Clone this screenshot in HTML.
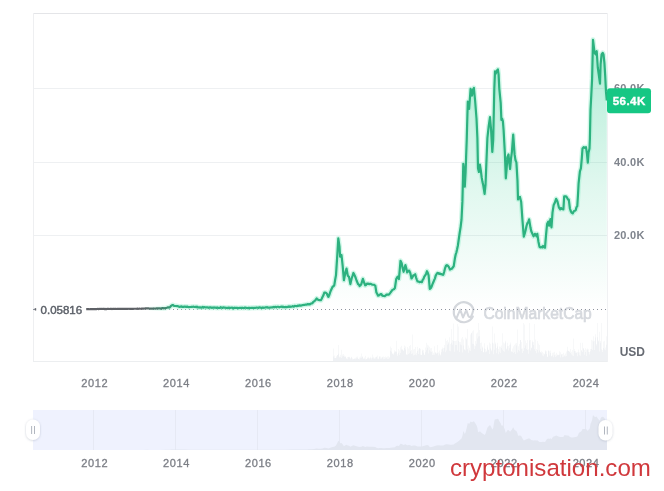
<!DOCTYPE html>
<html><head><meta charset="utf-8"><title>BTC chart</title>
<style>
html,body{margin:0;padding:0;background:#fff;width:664px;height:491px;overflow:hidden}
svg{display:block}
text{font-family:"Liberation Sans",Arial,sans-serif}
</style></head><body>
<svg width="664" height="491" viewBox="0 0 664 491">
<defs>
<linearGradient id="fillg" x1="0" y1="0" x2="0" y2="1" gradientUnits="objectBoundingBox">
<stop offset="0" stop-color="#16c784" stop-opacity="0.34"/>
<stop offset="0.55" stop-color="#16c784" stop-opacity="0.13"/>
<stop offset="1" stop-color="#16c784" stop-opacity="0.0"/>
</linearGradient>
<linearGradient id="lineg" x1="33" y1="0" x2="607" y2="0" gradientUnits="userSpaceOnUse">
<stop offset="0" stop-color="#5e6166"/>
<stop offset="0.19" stop-color="#5e6166"/>
<stop offset="0.232" stop-color="#3d8a6f"/>
<stop offset="0.245" stop-color="#2db07f"/>
<stop offset="1" stop-color="#2cb27f"/>
</linearGradient>
<linearGradient id="halog" x1="33" y1="0" x2="607" y2="0" gradientUnits="userSpaceOnUse">
<stop offset="0" stop-color="#a8f0d4" stop-opacity="0"/>
<stop offset="0.2" stop-color="#a8f0d4" stop-opacity="0"/>
<stop offset="0.245" stop-color="#a8f0d4" stop-opacity="0.55"/>
<stop offset="1" stop-color="#a8f0d4" stop-opacity="0.55"/>
</linearGradient>
<filter id="sh" x="-50%" y="-50%" width="200%" height="200%"><feDropShadow dx="0" dy="0.5" stdDeviation="1.2" flood-color="#8a94a8" flood-opacity="0.45"/></filter>
</defs>
<!-- grid -->
<g stroke="#eef0f2" stroke-width="1">
<line x1="33" y1="88.5" x2="607" y2="88.5"/>
<line x1="33" y1="162.5" x2="607" y2="162.5"/>
<line x1="33" y1="235.5" x2="607" y2="235.5"/>
</g>
<line x1="33" y1="13.5" x2="607" y2="13.5" stroke="#e4e5e8"/>
<line x1="33.5" y1="13" x2="33.5" y2="362" stroke="#eeeff1"/>
<line x1="33" y1="361.5" x2="607" y2="361.5" stroke="#eceef0"/>
<line x1="607.5" y1="13" x2="607.5" y2="362" stroke="#f0f1f3"/>
<!-- volume -->
<g fill="#eff1f4">
<path d="M333,361 L333.0,356.6 L333.5,356.6 L333.5,348.6 L334.0,348.6 L334.0,355.4 L334.5,355.4 L334.5,358.0 L335.0,358.0 L335.0,358.1 L335.5,358.1 L335.5,357.9 L336.0,357.9 L336.0,356.0 L336.5,356.0 L336.5,357.6 L337.0,357.6 L337.0,354.9 L337.5,354.9 L337.5,355.2 L338.0,355.2 L338.0,345.1 L338.5,345.1 L338.5,353.7 L339.0,353.7 L339.0,357.5 L339.5,357.5 L339.5,356.6 L340.0,356.6 L340.0,357.3 L340.5,357.3 L340.5,354.8 L341.0,354.8 L341.0,349.7 L341.5,349.7 L341.5,358.0 L342.0,358.0 L342.0,354.6 L342.5,354.6 L342.5,356.6 L343.0,356.6 L343.0,355.9 L343.5,355.9 L343.5,354.0 L344.0,354.0 L344.0,357.0 L344.5,357.0 L344.5,355.5 L345.0,355.5 L345.0,357.1 L345.5,357.1 L345.5,356.3 L346.0,356.3 L346.0,358.1 L346.5,358.1 L346.5,358.9 L347.0,358.9 L347.0,359.3 L347.5,359.3 L347.5,357.0 L348.0,357.0 L348.0,356.7 L348.5,356.7 L348.5,357.2 L349.0,357.2 L349.0,357.6 L349.5,357.6 L349.5,356.8 L350.0,356.8 L350.0,357.9 L350.5,357.9 L350.5,359.2 L351.0,359.2 L351.0,357.4 L351.5,357.4 L351.5,356.8 L352.0,356.8 L352.0,358.2 L352.5,358.2 L352.5,359.4 L353.0,359.4 L353.0,358.9 L353.5,358.9 L353.5,359.2 L354.0,359.2 L354.0,359.0 L354.5,359.0 L354.5,358.2 L355.0,358.2 L355.0,359.2 L355.5,359.2 L355.5,357.7 L356.0,357.7 L356.0,356.8 L356.5,356.8 L356.5,358.5 L357.0,358.5 L357.0,358.3 L357.5,358.3 L357.5,356.4 L358.0,356.4 L358.0,358.9 L358.5,358.9 L358.5,358.7 L359.0,358.7 L359.0,357.6 L359.5,357.6 L359.5,359.4 L360.0,359.4 L360.0,358.3 L360.5,358.3 L360.5,356.4 L361.0,356.4 L361.0,357.8 L361.5,357.8 L361.5,353.6 L362.0,353.6 L362.0,356.6 L362.5,356.6 L362.5,356.7 L363.0,356.7 L363.0,358.2 L363.5,358.2 L363.5,359.1 L364.0,359.1 L364.0,357.5 L364.5,357.5 L364.5,358.8 L365.0,358.8 L365.0,355.7 L365.5,355.7 L365.5,359.4 L366.0,359.4 L366.0,359.1 L366.5,359.1 L366.5,359.3 L367.0,359.3 L367.0,357.5 L367.5,357.5 L367.5,358.6 L368.0,358.6 L368.0,358.3 L368.5,358.3 L368.5,356.8 L369.0,356.8 L369.0,358.0 L369.5,358.0 L369.5,359.2 L370.0,359.2 L370.0,358.3 L370.5,358.3 L370.5,356.8 L371.0,356.8 L371.0,359.4 L371.5,359.4 L371.5,357.8 L372.0,357.8 L372.0,354.4 L372.5,354.4 L372.5,357.8 L373.0,357.8 L373.0,356.7 L373.5,356.7 L373.5,358.6 L374.0,358.6 L374.0,358.9 L374.5,358.9 L374.5,357.7 L375.0,357.7 L375.0,358.4 L375.5,358.4 L375.5,356.9 L376.0,356.9 L376.0,356.7 L376.5,356.7 L376.5,356.8 L377.0,356.8 L377.0,358.7 L377.5,358.7 L377.5,355.6 L378.0,355.6 L378.0,359.3 L378.5,359.3 L378.5,358.6 L379.0,358.6 L379.0,356.4 L379.5,356.4 L379.5,356.5 L380.0,356.5 L380.0,356.4 L380.5,356.4 L380.5,358.7 L381.0,358.7 L381.0,358.8 L381.5,358.8 L381.5,357.5 L382.0,357.5 L382.0,356.8 L382.5,356.8 L382.5,357.4 L383.0,357.4 L383.0,359.2 L383.5,359.2 L383.5,356.6 L384.0,356.6 L384.0,357.1 L384.5,357.1 L384.5,358.9 L385.0,358.9 L385.0,358.4 L385.5,358.4 L385.5,356.4 L386.0,356.4 L386.0,358.2 L386.5,358.2 L386.5,357.1 L387.0,357.1 L387.0,359.0 L387.5,359.0 L387.5,356.6 L388.0,356.6 L388.0,359.0 L388.5,359.0 L388.5,356.3 L389.0,356.3 L389.0,358.3 L389.5,358.3 L389.5,357.0 L390.0,357.0 L390.0,346.4 L390.5,346.4 L390.5,350.8 L391.0,350.8 L391.0,351.8 L391.5,351.8 L391.5,347.9 L392.0,347.9 L392.0,353.6 L392.5,353.6 L392.5,353.7 L393.0,353.7 L393.0,353.5 L393.5,353.5 L393.5,354.8 L394.0,354.8 L394.0,352.5 L394.5,352.5 L394.5,350.3 L395.0,350.3 L395.0,351.9 L395.5,351.9 L395.5,351.1 L396.0,351.1 L396.0,340.7 L396.5,340.7 L396.5,351.7 L397.0,351.7 L397.0,356.0 L397.5,356.0 L397.5,354.3 L398.0,354.3 L398.0,348.9 L398.5,348.9 L398.5,352.8 L399.0,352.8 L399.0,350.6 L399.5,350.6 L399.5,355.0 L400.0,355.0 L400.0,352.9 L400.5,352.9 L400.5,347.3 L401.0,347.3 L401.0,349.5 L401.5,349.5 L401.5,345.7 L402.0,345.7 L402.0,349.0 L402.5,349.0 L402.5,350.1 L403.0,350.1 L403.0,350.7 L403.5,350.7 L403.5,350.4 L404.0,350.4 L404.0,348.0 L404.5,348.0 L404.5,345.4 L405.0,345.4 L405.0,349.6 L405.5,349.6 L405.5,346.5 L406.0,346.5 L406.0,354.3 L406.5,354.3 L406.5,354.8 L407.0,354.8 L407.0,354.8 L407.5,354.8 L407.5,347.1 L408.0,347.1 L408.0,353.9 L408.5,353.9 L408.5,348.5 L409.0,348.5 L409.0,346.1 L409.5,346.1 L409.5,353.2 L410.0,353.2 L410.0,351.3 L410.5,351.3 L410.5,344.9 L411.0,344.9 L411.0,353.9 L411.5,353.9 L411.5,350.0 L412.0,350.0 L412.0,353.5 L412.5,353.5 L412.5,334.6 L413.0,334.6 L413.0,349.6 L413.5,349.6 L413.5,355.4 L414.0,355.4 L414.0,348.9 L414.5,348.9 L414.5,354.9 L415.0,354.9 L415.0,347.1 L415.5,347.1 L415.5,354.5 L416.0,354.5 L416.0,355.2 L416.5,355.2 L416.5,352.7 L417.0,352.7 L417.0,351.0 L417.5,351.0 L417.5,346.8 L418.0,346.8 L418.0,354.0 L418.5,354.0 L418.5,349.4 L419.0,349.4 L419.0,348.3 L419.5,348.3 L419.5,348.2 L420.0,348.2 L420.0,354.8 L420.5,354.8 L420.5,348.7 L421.0,348.7 L421.0,354.7 L421.5,354.7 L421.5,354.9 L422.0,354.9 L422.0,350.7 L422.5,350.7 L422.5,349.6 L423.0,349.6 L423.0,352.7 L423.5,352.7 L423.5,349.9 L424.0,349.9 L424.0,354.4 L424.5,354.4 L424.5,355.1 L425.0,355.1 L425.0,352.2 L425.5,352.2 L425.5,347.4 L426.0,347.4 L426.0,350.2 L426.5,350.2 L426.5,342.7 L427.0,342.7 L427.0,344.8 L427.5,344.8 L427.5,347.7 L428.0,347.7 L428.0,353.6 L428.5,353.6 L428.5,345.5 L429.0,345.5 L429.0,346.8 L429.5,346.8 L429.5,350.3 L430.0,350.3 L430.0,351.4 L430.5,351.4 L430.5,348.2 L431.0,348.2 L431.0,351.9 L431.5,351.9 L431.5,348.0 L432.0,348.0 L432.0,351.2 L432.5,351.2 L432.5,355.0 L433.0,355.0 L433.0,354.8 L433.5,354.8 L433.5,352.8 L434.0,352.8 L434.0,354.7 L434.5,354.7 L434.5,346.2 L435.0,346.2 L435.0,352.6 L435.5,352.6 L435.5,352.4 L436.0,352.4 L436.0,353.9 L436.5,353.9 L436.5,352.8 L437.0,352.8 L437.0,345.1 L437.5,345.1 L437.5,353.0 L438.0,353.0 L438.0,352.3 L438.5,352.3 L438.5,355.6 L439.0,355.6 L439.0,350.5 L439.5,350.5 L439.5,353.4 L440.0,353.4 L440.0,355.5 L440.5,355.5 L440.5,354.6 L441.0,354.6 L441.0,349.3 L441.5,349.3 L441.5,352.3 L442.0,352.3 L442.0,349.3 L442.5,349.3 L442.5,347.5 L443.0,347.5 L443.0,347.9 L443.5,347.9 L443.5,351.4 L444.0,351.4 L444.0,345.0 L444.5,345.0 L444.5,347.8 L445.0,347.8 L445.0,352.2 L445.5,352.2 L445.5,338.5 L446.0,338.5 L446.0,341.0 L446.5,341.0 L446.5,350.6 L447.0,350.6 L447.0,344.7 L447.5,344.7 L447.5,339.9 L448.0,339.9 L448.0,343.4 L448.5,343.4 L448.5,341.8 L449.0,341.8 L449.0,337.3 L449.5,337.3 L449.5,350.7 L450.0,350.7 L450.0,351.2 L450.5,351.2 L450.5,343.9 L451.0,343.9 L451.0,342.8 L451.5,342.8 L451.5,328.9 L452.0,328.9 L452.0,340.0 L452.5,340.0 L452.5,344.8 L453.0,344.8 L453.0,323.4 L453.5,323.4 L453.5,341.0 L454.0,341.0 L454.0,351.7 L454.5,351.7 L454.5,341.1 L455.0,341.1 L455.0,340.9 L455.5,340.9 L455.5,344.9 L456.0,344.9 L456.0,345.1 L456.5,345.1 L456.5,340.5 L457.0,340.5 L457.0,324.0 L457.5,324.0 L457.5,350.5 L458.0,350.5 L458.0,340.9 L458.5,340.9 L458.5,326.4 L459.0,326.4 L459.0,351.9 L459.5,351.9 L459.5,342.0 L460.0,342.0 L460.0,342.0 L460.5,342.0 L460.5,344.5 L461.0,344.5 L461.0,345.3 L461.5,345.3 L461.5,338.4 L462.0,338.4 L462.0,337.1 L462.5,337.1 L462.5,352.6 L463.0,352.6 L463.0,339.6 L463.5,339.6 L463.5,345.6 L464.0,345.6 L464.0,349.5 L464.5,349.5 L464.5,349.5 L465.0,349.5 L465.0,350.6 L465.5,350.6 L465.5,337.5 L466.0,337.5 L466.0,339.6 L466.5,339.6 L466.5,338.5 L467.0,338.5 L467.0,349.2 L467.5,349.2 L467.5,329.0 L468.0,329.0 L468.0,352.8 L468.5,352.8 L468.5,345.6 L469.0,345.6 L469.0,350.6 L469.5,350.6 L469.5,347.8 L470.0,347.8 L470.0,351.1 L470.5,351.1 L470.5,334.5 L471.0,334.5 L471.0,332.8 L471.5,332.8 L471.5,333.2 L472.0,333.2 L472.0,343.7 L472.5,343.7 L472.5,331.3 L473.0,331.3 L473.0,344.0 L473.5,344.0 L473.5,330.3 L474.0,330.3 L474.0,349.1 L474.5,349.1 L474.5,345.4 L475.0,345.4 L475.0,346.2 L475.5,346.2 L475.5,341.0 L476.0,341.0 L476.0,343.7 L476.5,343.7 L476.5,333.6 L477.0,333.6 L477.0,338.6 L477.5,338.6 L477.5,332.5 L478.0,332.5 L478.0,323.0 L478.5,323.0 L478.5,336.6 L479.0,336.6 L479.0,336.2 L479.5,336.2 L479.5,329.9 L480.0,329.9 L480.0,343.0 L480.5,343.0 L480.5,348.8 L481.0,348.8 L481.0,350.9 L481.5,350.9 L481.5,342.4 L482.0,342.4 L482.0,346.4 L482.5,346.4 L482.5,347.7 L483.0,347.7 L483.0,352.6 L483.5,352.6 L483.5,352.1 L484.0,352.1 L484.0,348.4 L484.5,348.4 L484.5,343.3 L485.0,343.3 L485.0,349.0 L485.5,349.0 L485.5,352.3 L486.0,352.3 L486.0,350.4 L486.5,350.4 L486.5,351.7 L487.0,351.7 L487.0,347.5 L487.5,347.5 L487.5,345.3 L488.0,345.3 L488.0,349.5 L488.5,349.5 L488.5,350.0 L489.0,350.0 L489.0,353.9 L489.5,353.9 L489.5,342.5 L490.0,342.5 L490.0,348.4 L490.5,348.4 L490.5,343.8 L491.0,343.8 L491.0,351.3 L491.5,351.3 L491.5,349.7 L492.0,349.7 L492.0,342.7 L492.5,342.7 L492.5,326.4 L493.0,326.4 L493.0,354.3 L493.5,354.3 L493.5,343.4 L494.0,343.4 L494.0,333.6 L494.5,333.6 L494.5,349.8 L495.0,349.8 L495.0,344.3 L495.5,344.3 L495.5,342.4 L496.0,342.4 L496.0,353.3 L496.5,353.3 L496.5,348.1 L497.0,348.1 L497.0,342.8 L497.5,342.8 L497.5,346.5 L498.0,346.5 L498.0,348.9 L498.5,348.9 L498.5,354.2 L499.0,354.2 L499.0,351.8 L499.5,351.8 L499.5,346.6 L500.0,346.6 L500.0,353.1 L500.5,353.1 L500.5,346.7 L501.0,346.7 L501.0,345.6 L501.5,345.6 L501.5,348.1 L502.0,348.1 L502.0,349.8 L502.5,349.8 L502.5,333.3 L503.0,333.3 L503.0,350.9 L503.5,350.9 L503.5,342.6 L504.0,342.6 L504.0,343.6 L504.5,343.6 L504.5,351.7 L505.0,351.7 L505.0,342.6 L505.5,342.6 L505.5,340.7 L506.0,340.7 L506.0,348.4 L506.5,348.4 L506.5,349.4 L507.0,349.4 L507.0,346.3 L507.5,346.3 L507.5,342.7 L508.0,342.7 L508.0,350.4 L508.5,350.4 L508.5,346.1 L509.0,346.1 L509.0,344.7 L509.5,344.7 L509.5,348.3 L510.0,348.3 L510.0,342.5 L510.5,342.5 L510.5,344.4 L511.0,344.4 L511.0,351.9 L511.5,351.9 L511.5,351.0 L512.0,351.0 L512.0,348.5 L512.5,348.5 L512.5,351.9 L513.0,351.9 L513.0,346.3 L513.5,346.3 L513.5,352.9 L514.0,352.9 L514.0,352.0 L514.5,352.0 L514.5,344.8 L515.0,344.8 L515.0,353.9 L515.5,353.9 L515.5,343.4 L516.0,343.4 L516.0,345.5 L516.5,345.5 L516.5,343.0 L517.0,343.0 L517.0,352.4 L517.5,352.4 L517.5,329.6 L518.0,329.6 L518.0,346.3 L518.5,346.3 L518.5,350.0 L519.0,350.0 L519.0,344.1 L519.5,344.1 L519.5,351.2 L520.0,351.2 L520.0,340.0 L520.5,340.0 L520.5,339.9 L521.0,339.9 L521.0,348.7 L521.5,348.7 L521.5,342.0 L522.0,342.0 L522.0,353.1 L522.5,353.1 L522.5,348.4 L523.0,348.4 L523.0,351.0 L523.5,351.0 L523.5,323.0 L524.0,323.0 L524.0,347.9 L524.5,347.9 L524.5,324.5 L525.0,324.5 L525.0,345.6 L525.5,345.6 L525.5,340.6 L526.0,340.6 L526.0,343.0 L526.5,343.0 L526.5,348.9 L527.0,348.9 L527.0,340.0 L527.5,340.0 L527.5,350.0 L528.0,350.0 L528.0,349.2 L528.5,349.2 L528.5,353.7 L529.0,353.7 L529.0,340.6 L529.5,340.6 L529.5,323.0 L530.0,323.0 L530.0,350.4 L530.5,350.4 L530.5,340.0 L531.0,340.0 L531.0,348.2 L531.5,348.2 L531.5,347.6 L532.0,347.6 L532.0,340.4 L532.5,340.4 L532.5,342.2 L533.0,342.2 L533.0,342.0 L533.5,342.0 L533.5,345.1 L534.0,345.1 L534.0,349.2 L534.5,349.2 L534.5,324.1 L535.0,324.1 L535.0,351.0 L535.5,351.0 L535.5,339.5 L536.0,339.5 L536.0,353.3 L536.5,353.3 L536.5,349.1 L537.0,349.1 L537.0,341.1 L537.5,341.1 L537.5,350.0 L538.0,350.0 L538.0,352.4 L538.5,352.4 L538.5,343.6 L539.0,343.6 L539.0,350.4 L539.5,350.4 L539.5,344.9 L540.0,344.9 L540.0,352.0 L540.5,352.0 L540.5,352.6 L541.0,352.6 L541.0,351.3 L541.5,351.3 L541.5,353.3 L542.0,353.3 L542.0,352.1 L542.5,352.1 L542.5,355.6 L543.0,355.6 L543.0,356.3 L543.5,356.3 L543.5,353.2 L544.0,353.2 L544.0,354.5 L544.5,354.5 L544.5,353.7 L545.0,353.7 L545.0,351.6 L545.5,351.6 L545.5,350.3 L546.0,350.3 L546.0,354.0 L546.5,354.0 L546.5,351.3 L547.0,351.3 L547.0,357.1 L547.5,357.1 L547.5,356.5 L548.0,356.5 L548.0,350.4 L548.5,350.4 L548.5,350.7 L549.0,350.7 L549.0,351.2 L549.5,351.2 L549.5,355.5 L550.0,355.5 L550.0,350.6 L550.5,350.6 L550.5,353.1 L551.0,353.1 L551.0,355.8 L551.5,355.8 L551.5,356.4 L552.0,356.4 L552.0,355.6 L552.5,355.6 L552.5,352.7 L553.0,352.7 L553.0,357.3 L553.5,357.3 L553.5,352.5 L554.0,352.5 L554.0,355.2 L554.5,355.2 L554.5,351.7 L555.0,351.7 L555.0,356.9 L555.5,356.9 L555.5,354.6 L556.0,354.6 L556.0,352.8 L556.5,352.8 L556.5,356.2 L557.0,356.2 L557.0,354.4 L557.5,354.4 L557.5,355.2 L558.0,355.2 L558.0,355.2 L558.5,355.2 L558.5,354.8 L559.0,354.8 L559.0,351.2 L559.5,351.2 L559.5,354.8 L560.0,354.8 L560.0,352.2 L560.5,352.2 L560.5,357.4 L561.0,357.4 L561.0,354.3 L561.5,354.3 L561.5,354.5 L562.0,354.5 L562.0,354.1 L562.5,354.1 L562.5,357.3 L563.0,357.3 L563.0,352.8 L563.5,352.8 L563.5,356.8 L564.0,356.8 L564.0,354.7 L564.5,354.7 L564.5,356.3 L565.0,356.3 L565.0,353.6 L565.5,353.6 L565.5,356.6 L566.0,356.6 L566.0,351.6 L566.5,351.6 L566.5,356.0 L567.0,356.0 L567.0,350.6 L567.5,350.6 L567.5,346.8 L568.0,346.8 L568.0,350.7 L568.5,350.7 L568.5,350.9 L569.0,350.9 L569.0,351.5 L569.5,351.5 L569.5,351.7 L570.0,351.7 L570.0,352.9 L570.5,352.9 L570.5,349.0 L571.0,349.0 L571.0,354.5 L571.5,354.5 L571.5,351.8 L572.0,351.8 L572.0,355.4 L572.5,355.4 L572.5,350.0 L573.0,350.0 L573.0,356.1 L573.5,356.1 L573.5,338.4 L574.0,338.4 L574.0,349.0 L574.5,349.0 L574.5,351.1 L575.0,351.1 L575.0,350.9 L575.5,350.9 L575.5,352.7 L576.0,352.7 L576.0,352.7 L576.5,352.7 L576.5,352.5 L577.0,352.5 L577.0,356.3 L577.5,356.3 L577.5,352.1 L578.0,352.1 L578.0,349.6 L578.5,349.6 L578.5,352.4 L579.0,352.4 L579.0,352.2 L579.5,352.2 L579.5,355.3 L580.0,355.3 L580.0,355.7 L580.5,355.7 L580.5,342.8 L581.0,342.8 L581.0,350.8 L581.5,350.8 L581.5,349.9 L582.0,349.9 L582.0,342.8 L582.5,342.8 L582.5,352.0 L583.0,352.0 L583.0,347.9 L583.5,347.9 L583.5,348.8 L584.0,348.8 L584.0,349.9 L584.5,349.9 L584.5,354.8 L585.0,354.8 L585.0,352.1 L585.5,352.1 L585.5,348.3 L586.0,348.3 L586.0,349.4 L586.5,349.4 L586.5,355.9 L587.0,355.9 L587.0,349.7 L587.5,349.7 L587.5,348.4 L588.0,348.4 L588.0,349.2 L588.5,349.2 L588.5,352.0 L589.0,352.0 L589.0,354.6 L589.5,354.6 L589.5,351.9 L590.0,351.9 L590.0,351.3 L590.5,351.3 L590.5,349.1 L591.0,349.1 L591.0,339.8 L591.5,339.8 L591.5,349.0 L592.0,349.0 L592.0,349.9 L592.5,349.9 L592.5,340.5 L593.0,340.5 L593.0,336.3 L593.5,336.3 L593.5,341.6 L594.0,341.6 L594.0,350.1 L594.5,350.1 L594.5,340.7 L595.0,340.7 L595.0,337.6 L595.5,337.6 L595.5,334.2 L596.0,334.2 L596.0,345.5 L596.5,345.5 L596.5,344.0 L597.0,344.0 L597.0,323.0 L597.5,323.0 L597.5,337.2 L598.0,337.2 L598.0,340.5 L598.5,340.5 L598.5,341.5 L599.0,341.5 L599.0,331.7 L599.5,331.7 L599.5,351.4 L600.0,351.4 L600.0,340.9 L600.5,340.9 L600.5,342.8 L601.0,342.8 L601.0,349.6 L601.5,349.6 L601.5,323.0 L602.0,323.0 L602.0,352.0 L602.5,352.0 L602.5,350.1 L603.0,350.1 L603.0,348.0 L603.5,348.0 L603.5,341.4 L604.0,341.4 L604.0,340.8 L604.5,340.8 L604.5,349.6 L605.0,349.6 L605.0,347.6 L605.5,347.6 L605.5,350.3 L606.0,350.3 L606.0,336.3 L606.5,336.3 L606.5,344.8 L607.0,344.8 L607,361 Z"/>
</g>
<!-- cmc watermark -->
<g>
<path d="M472.8,316.5 A10,10 0 1 1 473.4,309.5" fill="none" stroke="#d4d7dc" stroke-width="2.2" stroke-linecap="round"/>
<path d="M456.5,318.2 L460.2,309.6 L463,317.5 L466.3,310.2 L468.2,315.7 Q469.5,318 471,316.5 Q472.4,314.5 473.4,309.5" fill="none" stroke="#d4d7dc" stroke-width="2" stroke-linejoin="round" stroke-linecap="round"/>
<text x="483.4" y="319.4" font-size="16.2" fill="#d6d9de" stroke="#d6d9de" stroke-width="0.7" textLength="108.4" lengthAdjust="spacingAndGlyphs">CoinMarketCap</text>
</g>
<!-- baseline -->
<line x1="33" y1="309.5" x2="607" y2="309.5" stroke="#8e949e" stroke-width="1" stroke-dasharray="1 3"/>
<!-- area + line -->
<path d="M35.00,309.30 L35.71,309.25 L36.43,309.31 L37.14,309.27 L37.86,309.32 L38.57,309.33 L39.29,309.21 L40.00,309.20 L40.71,309.37 L41.43,309.25 L42.14,309.25 L42.86,309.40 L43.57,309.29 L44.29,309.37 L45.00,309.30 L45.71,309.33 L46.43,309.23 L47.14,309.33 L47.86,309.37 L48.57,309.30 L49.29,309.35 L50.00,309.33 L50.71,309.21 L51.43,309.35 L52.14,309.32 L52.86,309.26 L53.57,309.21 L54.29,309.37 L55.00,309.29 L55.71,309.34 L56.43,309.38 L57.14,309.34 L57.86,309.38 L58.57,309.28 L59.29,309.36 L60.00,309.30 L60.71,309.29 L61.42,309.38 L62.13,309.37 L62.84,309.21 L63.55,309.21 L64.26,309.23 L64.97,309.37 L65.68,309.27 L66.39,309.30 L67.11,309.23 L67.82,309.27 L68.53,309.25 L69.24,309.24 L69.95,309.28 L70.66,309.28 L71.37,309.34 L72.08,309.29 L72.79,309.34 L73.50,309.32 L74.21,309.35 L74.92,309.28 L75.63,309.17 L76.34,309.31 L77.05,309.33 L77.76,309.32 L78.47,309.25 L79.18,309.27 L79.89,309.17 L80.61,309.29 L81.32,309.24 L82.03,309.18 L82.74,309.13 L83.45,309.28 L84.16,309.31 L84.87,309.13 L85.58,309.27 L86.29,309.18 L87.00,309.20 L87.72,309.12 L88.44,309.14 L89.17,309.22 L89.89,309.23 L90.61,309.05 L91.33,309.16 L92.06,309.03 L92.78,309.15 L93.50,309.07 L94.22,309.17 L94.94,309.17 L95.67,309.07 L96.39,309.16 L97.11,309.01 L97.83,308.95 L98.56,309.04 L99.28,308.92 L100.00,309.00 L100.71,308.94 L101.43,308.97 L102.14,309.01 L102.86,308.92 L103.57,308.89 L104.29,309.05 L105.00,308.94 L105.71,309.06 L106.43,309.05 L107.14,308.94 L107.86,308.95 L108.57,308.96 L109.29,308.98 L110.00,308.97 L110.71,308.96 L111.43,308.97 L112.14,309.03 L112.86,308.94 L113.57,308.92 L114.29,308.97 L115.00,308.87 L115.71,308.88 L116.43,309.01 L117.14,308.92 L117.86,308.92 L118.57,308.81 L119.29,308.89 L120.00,308.90 L120.72,308.91 L121.44,308.79 L122.16,308.90 L122.88,308.90 L123.59,308.78 L124.31,308.89 L125.03,308.85 L125.75,308.89 L126.47,308.81 L127.19,308.88 L127.91,308.88 L128.62,308.73 L129.34,308.73 L130.06,308.85 L130.78,308.90 L131.50,308.75 L132.22,308.79 L132.94,308.81 L133.66,308.75 L134.38,308.75 L135.09,308.73 L135.81,308.74 L136.53,308.78 L137.25,308.71 L137.97,308.72 L138.69,308.79 L139.41,308.64 L140.12,308.74 L140.84,308.77 L141.56,308.67 L142.28,308.65 L143.00,308.70 L143.80,308.68 L144.60,308.49 L145.40,308.40 L146.20,308.37 L147.00,308.30 L147.75,308.41 L148.50,308.37 L149.25,308.49 L150.00,308.60 L150.71,308.55 L151.43,308.64 L152.14,308.54 L152.86,308.61 L153.57,308.46 L154.29,308.48 L155.00,308.53 L155.71,308.56 L156.43,308.46 L157.14,308.40 L157.86,308.37 L158.57,308.43 L159.29,308.35 L160.00,308.40 L160.75,308.57 L161.50,308.55 L162.25,308.02 L163.00,308.04 L163.75,308.38 L164.50,308.20 L165.25,308.28 L166.00,308.00 L166.80,307.73 L167.60,307.40 L168.40,307.36 L169.20,307.58 L170.00,307.20 L170.75,306.22 L171.50,305.60 L172.20,305.18 L172.90,305.00 L174.00,305.80 L175.00,306.00 L176.00,305.98 L177.00,306.10 L177.75,306.21 L178.50,306.38 L179.25,306.95 L180.00,306.80 L180.71,306.49 L181.43,306.33 L182.14,307.01 L182.86,306.92 L183.57,306.96 L184.29,306.49 L185.00,306.50 L185.71,306.92 L186.43,306.97 L187.14,306.50 L187.86,306.97 L188.57,307.11 L189.29,307.05 L190.00,307.00 L190.71,307.00 L191.43,306.81 L192.14,306.84 L192.86,306.74 L193.57,306.60 L194.29,306.98 L195.00,306.90 L195.71,306.80 L196.43,307.25 L197.14,306.73 L197.86,307.43 L198.57,307.33 L199.29,307.56 L200.00,307.30 L200.70,307.61 L201.40,307.62 L202.10,307.39 L202.80,306.97 L203.50,307.53 L204.20,307.11 L204.90,307.22 L205.60,307.50 L206.30,307.41 L207.00,307.40 L207.73,307.36 L208.45,307.78 L209.18,307.57 L209.91,307.39 L210.64,307.35 L211.36,307.83 L212.09,307.57 L212.82,307.83 L213.55,307.54 L214.27,307.45 L215.00,307.70 L215.70,307.72 L216.40,307.92 L217.10,307.43 L217.80,307.88 L218.50,307.96 L219.20,307.87 L219.90,307.87 L220.60,307.25 L221.30,307.71 L222.00,307.60 L222.73,307.91 L223.45,307.34 L224.18,307.54 L224.91,307.57 L225.64,307.80 L226.36,307.76 L227.09,307.83 L227.82,308.10 L228.55,307.56 L229.27,307.64 L230.00,308.00 L230.71,307.73 L231.43,307.72 L232.14,307.68 L232.86,308.35 L233.57,308.26 L234.29,307.70 L235.00,308.00 L235.71,307.86 L236.43,307.86 L237.14,307.89 L237.86,308.11 L238.57,308.06 L239.29,307.90 L240.00,308.00 L240.71,307.77 L241.43,307.86 L242.14,307.70 L242.86,308.01 L243.57,308.12 L244.29,307.87 L245.00,307.64 L245.71,307.71 L246.43,307.84 L247.14,308.01 L247.86,308.13 L248.57,307.83 L249.29,308.13 L250.00,307.90 L250.73,307.97 L251.45,307.81 L252.18,307.75 L252.91,307.82 L253.64,307.96 L254.36,307.73 L255.09,307.92 L255.82,307.73 L256.55,307.55 L257.27,307.74 L258.00,307.70 L258.70,307.83 L259.40,307.34 L260.10,307.58 L260.80,307.56 L261.50,307.88 L262.20,307.91 L262.90,307.47 L263.60,307.84 L264.30,307.74 L265.00,307.50 L265.70,307.30 L266.40,307.43 L267.10,307.16 L267.80,307.65 L268.50,307.52 L269.20,307.67 L269.90,307.58 L270.60,307.47 L271.30,307.50 L272.00,307.30 L272.73,307.32 L273.45,306.95 L274.18,307.28 L274.91,306.82 L275.64,306.89 L276.36,307.34 L277.09,306.76 L277.82,306.77 L278.55,306.75 L279.27,307.32 L280.00,307.00 L280.75,306.74 L281.50,306.61 L282.25,307.22 L283.00,306.66 L283.75,307.20 L284.50,307.06 L285.25,307.17 L286.00,306.90 L286.75,307.20 L287.50,306.86 L288.25,306.98 L289.00,306.34 L289.75,306.86 L290.50,306.61 L291.25,306.72 L292.00,306.50 L292.71,306.12 L293.42,306.54 L294.13,306.60 L294.84,305.85 L295.56,305.97 L296.27,306.08 L296.98,306.21 L297.69,305.67 L298.40,305.80 L299.12,305.45 L299.84,305.40 L300.56,305.59 L301.28,305.60 L302.00,305.30 L302.78,305.10 L303.57,304.96 L304.35,304.87 L305.13,304.71 L305.92,304.65 L306.70,304.60 L307.47,304.12 L308.23,304.33 L309.00,304.20 L309.90,304.36 L310.80,303.66 L311.70,303.50 L312.47,303.05 L313.23,301.87 L314.00,301.50 L314.90,300.67 L315.80,299.74 L316.70,298.50 L317.60,299.41 L318.50,300.00 L319.30,300.08 L320.10,300.12 L320.90,300.20 L321.70,298.74 L322.50,297.00 L323.40,295.27 L324.30,292.70 L325.13,292.58 L325.97,292.79 L326.80,293.50 L327.60,295.46 L328.40,296.90 L329.27,295.11 L330.13,292.45 L331.00,290.20 L331.80,288.43 L332.60,286.80 L333.45,286.28 L334.30,285.20 L335.15,279.71 L336.00,275.10 L337.30,255.00 L338.30,238.40 L339.50,246.70 L340.10,256.70 L341.50,255.00 L342.60,265.10 L343.90,280.20 L345.00,274.60 L345.75,271.18 L346.50,268.50 L347.80,275.70 L349.00,276.90 L350.40,284.10 L351.10,280.63 L351.80,278.00 L352.60,275.63 L353.40,273.00 L354.17,274.38 L354.93,275.93 L355.70,278.00 L356.55,280.52 L357.40,282.50 L358.13,284.27 L358.87,284.57 L359.60,286.00 L360.45,285.31 L361.30,284.10 L362.10,281.38 L362.90,278.90 L364.10,282.50 L365.20,285.30 L366.05,284.91 L366.90,283.60 L367.63,283.88 L368.37,283.63 L369.10,284.10 L369.95,283.88 L370.80,283.78 L371.65,284.52 L372.50,284.70 L373.20,284.77 L373.90,284.73 L374.60,285.20 L375.30,285.60 L376.40,292.50 L377.25,293.91 L378.10,295.70 L378.90,295.54 L379.70,294.80 L380.55,294.12 L381.40,294.20 L382.25,295.56 L383.10,295.90 L383.95,295.98 L384.80,296.10 L385.65,295.45 L386.50,294.60 L387.20,294.47 L387.90,294.76 L388.60,294.64 L389.30,294.20 L390.10,293.16 L390.90,292.00 L391.75,290.83 L392.60,289.70 L393.37,289.43 L394.13,289.06 L394.90,288.10 L396.20,279.10 L396.95,277.75 L397.70,276.70 L398.90,279.10 L399.70,270.34 L400.50,260.80 L401.70,263.20 L402.65,268.29 L403.60,271.80 L404.50,268.40 L405.40,265.10 L406.30,268.30 L407.20,272.40 L408.15,271.07 L409.10,270.60 L410.30,273.00 L411.50,278.50 L412.40,277.27 L413.30,275.40 L414.25,275.07 L415.20,274.20 L416.00,277.32 L416.80,279.57 L417.60,281.50 L418.50,281.50 L419.40,282.20 L420.23,281.78 L421.07,281.87 L421.90,282.20 L422.70,279.93 L423.50,278.83 L424.30,276.70 L425.20,275.42 L426.10,273.66 L427.00,271.20 L427.80,272.92 L428.60,275.40 L429.80,288.90 L430.75,288.10 L431.70,286.40 L432.50,284.12 L433.30,282.23 L434.10,280.30 L434.90,278.60 L435.70,275.61 L436.50,274.20 L437.45,272.96 L438.40,273.00 L439.20,273.92 L440.00,273.48 L440.80,274.20 L441.63,274.18 L442.47,274.72 L443.30,274.80 L444.20,271.73 L445.10,268.10 L446.00,265.75 L446.90,265.10 L447.85,265.71 L448.80,266.90 L450.00,269.60 L450.90,269.04 L451.80,268.70 L452.75,267.48 L453.70,266.30 L454.90,258.30 L455.63,254.72 L456.37,252.48 L457.10,249.30 L457.95,245.18 L458.80,239.00 L459.70,232.77 L460.60,227.10 L461.50,219.70 L462.40,201.40 L463.00,177.50 L463.30,163.80 L463.90,170.20 L464.80,186.70 L465.60,172.00 L466.10,157.30 L466.70,140.50 L467.40,115.00 L467.80,101.70 L468.40,102.70 L469.10,108.80 L469.85,99.11 L470.60,88.90 L472.00,95.60 L472.95,89.54 L473.90,88.00 L475.10,100.50 L476.50,118.50 L477.40,138.00 L478.00,168.30 L478.90,172.00 L479.90,164.70 L480.80,170.19 L481.70,177.50 L482.50,182.12 L483.30,185.50 L484.60,193.80 L485.50,185.00 L486.50,160.00 L487.40,138.00 L488.60,127.00 L490.00,117.10 L491.10,130.00 L492.30,152.00 L493.20,140.00 L494.30,88.60 L495.00,71.40 L495.70,73.60 L496.90,70.70 L497.90,69.30 L498.60,74.30 L499.30,88.60 L500.70,102.90 L501.40,120.00 L502.15,118.67 L502.90,121.40 L503.60,130.00 L504.80,151.80 L505.80,178.30 L506.60,169.29 L507.40,157.10 L508.50,154.40 L509.30,163.44 L510.10,169.00 L511.00,158.68 L511.90,151.80 L513.20,134.60 L514.60,154.40 L515.50,160.31 L516.40,162.40 L517.50,180.90 L518.00,199.50 L518.95,197.73 L519.90,196.80 L521.20,202.10 L522.50,220.70 L523.80,236.60 L524.70,233.76 L525.60,230.21 L526.50,226.00 L527.37,223.20 L528.23,222.03 L529.10,219.30 L529.83,223.73 L530.57,228.12 L531.30,231.30 L532.40,233.80 L533.60,236.30 L534.90,233.80 L535.70,234.47 L536.50,236.30 L537.30,233.80 L538.50,242.00 L539.50,246.90 L540.45,247.46 L541.40,246.90 L542.20,247.47 L543.00,246.00 L544.00,247.23 L545.00,247.70 L546.00,235.40 L547.10,224.00 L548.30,221.60 L549.20,225.70 L550.40,219.10 L551.50,227.30 L552.50,212.60 L553.60,205.30 L554.80,202.80 L556.10,198.80 L557.40,201.20 L558.20,204.57 L559.00,207.70 L560.20,209.30 L561.00,207.95 L561.80,209.00 L562.60,209.13 L563.40,209.30 L564.20,196.30 L565.50,196.30 L566.35,196.60 L567.20,197.90 L568.00,199.48 L568.80,199.60 L569.90,208.50 L570.75,211.10 L571.60,212.60 L572.70,213.40 L574.00,211.00 L574.85,210.80 L575.70,210.20 L576.50,207.15 L577.30,206.10 L578.10,193.00 L578.60,183.30 L579.90,171.30 L580.90,168.40 L581.80,158.40 L582.50,148.50 L583.80,147.10 L584.90,147.80 L586.00,147.10 L587.00,154.20 L587.80,162.70 L588.50,152.80 L589.50,148.50 L589.90,138.50 L590.50,109.70 L591.30,95.00 L592.10,78.90 L593.00,39.80 L593.80,46.30 L594.60,52.80 L595.70,54.40 L596.70,51.20 L597.80,67.50 L598.70,74.00 L600.00,83.70 L600.60,64.20 L601.60,54.40 L602.70,52.80 L603.50,54.40 L604.40,62.60 L605.20,75.60 L606.00,91.90 L606.80,100.50 L606.8,309.5 L35,309.5 Z" fill="url(#fillg)"/>
<path d="M35.00,309.30 L35.71,309.25 L36.43,309.31 L37.14,309.27 L37.86,309.32 L38.57,309.33 L39.29,309.21 L40.00,309.20 L40.71,309.37 L41.43,309.25 L42.14,309.25 L42.86,309.40 L43.57,309.29 L44.29,309.37 L45.00,309.30 L45.71,309.33 L46.43,309.23 L47.14,309.33 L47.86,309.37 L48.57,309.30 L49.29,309.35 L50.00,309.33 L50.71,309.21 L51.43,309.35 L52.14,309.32 L52.86,309.26 L53.57,309.21 L54.29,309.37 L55.00,309.29 L55.71,309.34 L56.43,309.38 L57.14,309.34 L57.86,309.38 L58.57,309.28 L59.29,309.36 L60.00,309.30 L60.71,309.29 L61.42,309.38 L62.13,309.37 L62.84,309.21 L63.55,309.21 L64.26,309.23 L64.97,309.37 L65.68,309.27 L66.39,309.30 L67.11,309.23 L67.82,309.27 L68.53,309.25 L69.24,309.24 L69.95,309.28 L70.66,309.28 L71.37,309.34 L72.08,309.29 L72.79,309.34 L73.50,309.32 L74.21,309.35 L74.92,309.28 L75.63,309.17 L76.34,309.31 L77.05,309.33 L77.76,309.32 L78.47,309.25 L79.18,309.27 L79.89,309.17 L80.61,309.29 L81.32,309.24 L82.03,309.18 L82.74,309.13 L83.45,309.28 L84.16,309.31 L84.87,309.13 L85.58,309.27 L86.29,309.18 L87.00,309.20 L87.72,309.12 L88.44,309.14 L89.17,309.22 L89.89,309.23 L90.61,309.05 L91.33,309.16 L92.06,309.03 L92.78,309.15 L93.50,309.07 L94.22,309.17 L94.94,309.17 L95.67,309.07 L96.39,309.16 L97.11,309.01 L97.83,308.95 L98.56,309.04 L99.28,308.92 L100.00,309.00 L100.71,308.94 L101.43,308.97 L102.14,309.01 L102.86,308.92 L103.57,308.89 L104.29,309.05 L105.00,308.94 L105.71,309.06 L106.43,309.05 L107.14,308.94 L107.86,308.95 L108.57,308.96 L109.29,308.98 L110.00,308.97 L110.71,308.96 L111.43,308.97 L112.14,309.03 L112.86,308.94 L113.57,308.92 L114.29,308.97 L115.00,308.87 L115.71,308.88 L116.43,309.01 L117.14,308.92 L117.86,308.92 L118.57,308.81 L119.29,308.89 L120.00,308.90 L120.72,308.91 L121.44,308.79 L122.16,308.90 L122.88,308.90 L123.59,308.78 L124.31,308.89 L125.03,308.85 L125.75,308.89 L126.47,308.81 L127.19,308.88 L127.91,308.88 L128.62,308.73 L129.34,308.73 L130.06,308.85 L130.78,308.90 L131.50,308.75 L132.22,308.79 L132.94,308.81 L133.66,308.75 L134.38,308.75 L135.09,308.73 L135.81,308.74 L136.53,308.78 L137.25,308.71 L137.97,308.72 L138.69,308.79 L139.41,308.64 L140.12,308.74 L140.84,308.77 L141.56,308.67 L142.28,308.65 L143.00,308.70 L143.80,308.68 L144.60,308.49 L145.40,308.40 L146.20,308.37 L147.00,308.30 L147.75,308.41 L148.50,308.37 L149.25,308.49 L150.00,308.60 L150.71,308.55 L151.43,308.64 L152.14,308.54 L152.86,308.61 L153.57,308.46 L154.29,308.48 L155.00,308.53 L155.71,308.56 L156.43,308.46 L157.14,308.40 L157.86,308.37 L158.57,308.43 L159.29,308.35 L160.00,308.40 L160.75,308.57 L161.50,308.55 L162.25,308.02 L163.00,308.04 L163.75,308.38 L164.50,308.20 L165.25,308.28 L166.00,308.00 L166.80,307.73 L167.60,307.40 L168.40,307.36 L169.20,307.58 L170.00,307.20 L170.75,306.22 L171.50,305.60 L172.20,305.18 L172.90,305.00 L174.00,305.80 L175.00,306.00 L176.00,305.98 L177.00,306.10 L177.75,306.21 L178.50,306.38 L179.25,306.95 L180.00,306.80 L180.71,306.49 L181.43,306.33 L182.14,307.01 L182.86,306.92 L183.57,306.96 L184.29,306.49 L185.00,306.50 L185.71,306.92 L186.43,306.97 L187.14,306.50 L187.86,306.97 L188.57,307.11 L189.29,307.05 L190.00,307.00 L190.71,307.00 L191.43,306.81 L192.14,306.84 L192.86,306.74 L193.57,306.60 L194.29,306.98 L195.00,306.90 L195.71,306.80 L196.43,307.25 L197.14,306.73 L197.86,307.43 L198.57,307.33 L199.29,307.56 L200.00,307.30 L200.70,307.61 L201.40,307.62 L202.10,307.39 L202.80,306.97 L203.50,307.53 L204.20,307.11 L204.90,307.22 L205.60,307.50 L206.30,307.41 L207.00,307.40 L207.73,307.36 L208.45,307.78 L209.18,307.57 L209.91,307.39 L210.64,307.35 L211.36,307.83 L212.09,307.57 L212.82,307.83 L213.55,307.54 L214.27,307.45 L215.00,307.70 L215.70,307.72 L216.40,307.92 L217.10,307.43 L217.80,307.88 L218.50,307.96 L219.20,307.87 L219.90,307.87 L220.60,307.25 L221.30,307.71 L222.00,307.60 L222.73,307.91 L223.45,307.34 L224.18,307.54 L224.91,307.57 L225.64,307.80 L226.36,307.76 L227.09,307.83 L227.82,308.10 L228.55,307.56 L229.27,307.64 L230.00,308.00 L230.71,307.73 L231.43,307.72 L232.14,307.68 L232.86,308.35 L233.57,308.26 L234.29,307.70 L235.00,308.00 L235.71,307.86 L236.43,307.86 L237.14,307.89 L237.86,308.11 L238.57,308.06 L239.29,307.90 L240.00,308.00 L240.71,307.77 L241.43,307.86 L242.14,307.70 L242.86,308.01 L243.57,308.12 L244.29,307.87 L245.00,307.64 L245.71,307.71 L246.43,307.84 L247.14,308.01 L247.86,308.13 L248.57,307.83 L249.29,308.13 L250.00,307.90 L250.73,307.97 L251.45,307.81 L252.18,307.75 L252.91,307.82 L253.64,307.96 L254.36,307.73 L255.09,307.92 L255.82,307.73 L256.55,307.55 L257.27,307.74 L258.00,307.70 L258.70,307.83 L259.40,307.34 L260.10,307.58 L260.80,307.56 L261.50,307.88 L262.20,307.91 L262.90,307.47 L263.60,307.84 L264.30,307.74 L265.00,307.50 L265.70,307.30 L266.40,307.43 L267.10,307.16 L267.80,307.65 L268.50,307.52 L269.20,307.67 L269.90,307.58 L270.60,307.47 L271.30,307.50 L272.00,307.30 L272.73,307.32 L273.45,306.95 L274.18,307.28 L274.91,306.82 L275.64,306.89 L276.36,307.34 L277.09,306.76 L277.82,306.77 L278.55,306.75 L279.27,307.32 L280.00,307.00 L280.75,306.74 L281.50,306.61 L282.25,307.22 L283.00,306.66 L283.75,307.20 L284.50,307.06 L285.25,307.17 L286.00,306.90 L286.75,307.20 L287.50,306.86 L288.25,306.98 L289.00,306.34 L289.75,306.86 L290.50,306.61 L291.25,306.72 L292.00,306.50 L292.71,306.12 L293.42,306.54 L294.13,306.60 L294.84,305.85 L295.56,305.97 L296.27,306.08 L296.98,306.21 L297.69,305.67 L298.40,305.80 L299.12,305.45 L299.84,305.40 L300.56,305.59 L301.28,305.60 L302.00,305.30 L302.78,305.10 L303.57,304.96 L304.35,304.87 L305.13,304.71 L305.92,304.65 L306.70,304.60 L307.47,304.12 L308.23,304.33 L309.00,304.20 L309.90,304.36 L310.80,303.66 L311.70,303.50 L312.47,303.05 L313.23,301.87 L314.00,301.50 L314.90,300.67 L315.80,299.74 L316.70,298.50 L317.60,299.41 L318.50,300.00 L319.30,300.08 L320.10,300.12 L320.90,300.20 L321.70,298.74 L322.50,297.00 L323.40,295.27 L324.30,292.70 L325.13,292.58 L325.97,292.79 L326.80,293.50 L327.60,295.46 L328.40,296.90 L329.27,295.11 L330.13,292.45 L331.00,290.20 L331.80,288.43 L332.60,286.80 L333.45,286.28 L334.30,285.20 L335.15,279.71 L336.00,275.10 L337.30,255.00 L338.30,238.40 L339.50,246.70 L340.10,256.70 L341.50,255.00 L342.60,265.10 L343.90,280.20 L345.00,274.60 L345.75,271.18 L346.50,268.50 L347.80,275.70 L349.00,276.90 L350.40,284.10 L351.10,280.63 L351.80,278.00 L352.60,275.63 L353.40,273.00 L354.17,274.38 L354.93,275.93 L355.70,278.00 L356.55,280.52 L357.40,282.50 L358.13,284.27 L358.87,284.57 L359.60,286.00 L360.45,285.31 L361.30,284.10 L362.10,281.38 L362.90,278.90 L364.10,282.50 L365.20,285.30 L366.05,284.91 L366.90,283.60 L367.63,283.88 L368.37,283.63 L369.10,284.10 L369.95,283.88 L370.80,283.78 L371.65,284.52 L372.50,284.70 L373.20,284.77 L373.90,284.73 L374.60,285.20 L375.30,285.60 L376.40,292.50 L377.25,293.91 L378.10,295.70 L378.90,295.54 L379.70,294.80 L380.55,294.12 L381.40,294.20 L382.25,295.56 L383.10,295.90 L383.95,295.98 L384.80,296.10 L385.65,295.45 L386.50,294.60 L387.20,294.47 L387.90,294.76 L388.60,294.64 L389.30,294.20 L390.10,293.16 L390.90,292.00 L391.75,290.83 L392.60,289.70 L393.37,289.43 L394.13,289.06 L394.90,288.10 L396.20,279.10 L396.95,277.75 L397.70,276.70 L398.90,279.10 L399.70,270.34 L400.50,260.80 L401.70,263.20 L402.65,268.29 L403.60,271.80 L404.50,268.40 L405.40,265.10 L406.30,268.30 L407.20,272.40 L408.15,271.07 L409.10,270.60 L410.30,273.00 L411.50,278.50 L412.40,277.27 L413.30,275.40 L414.25,275.07 L415.20,274.20 L416.00,277.32 L416.80,279.57 L417.60,281.50 L418.50,281.50 L419.40,282.20 L420.23,281.78 L421.07,281.87 L421.90,282.20 L422.70,279.93 L423.50,278.83 L424.30,276.70 L425.20,275.42 L426.10,273.66 L427.00,271.20 L427.80,272.92 L428.60,275.40 L429.80,288.90 L430.75,288.10 L431.70,286.40 L432.50,284.12 L433.30,282.23 L434.10,280.30 L434.90,278.60 L435.70,275.61 L436.50,274.20 L437.45,272.96 L438.40,273.00 L439.20,273.92 L440.00,273.48 L440.80,274.20 L441.63,274.18 L442.47,274.72 L443.30,274.80 L444.20,271.73 L445.10,268.10 L446.00,265.75 L446.90,265.10 L447.85,265.71 L448.80,266.90 L450.00,269.60 L450.90,269.04 L451.80,268.70 L452.75,267.48 L453.70,266.30 L454.90,258.30 L455.63,254.72 L456.37,252.48 L457.10,249.30 L457.95,245.18 L458.80,239.00 L459.70,232.77 L460.60,227.10 L461.50,219.70 L462.40,201.40 L463.00,177.50 L463.30,163.80 L463.90,170.20 L464.80,186.70 L465.60,172.00 L466.10,157.30 L466.70,140.50 L467.40,115.00 L467.80,101.70 L468.40,102.70 L469.10,108.80 L469.85,99.11 L470.60,88.90 L472.00,95.60 L472.95,89.54 L473.90,88.00 L475.10,100.50 L476.50,118.50 L477.40,138.00 L478.00,168.30 L478.90,172.00 L479.90,164.70 L480.80,170.19 L481.70,177.50 L482.50,182.12 L483.30,185.50 L484.60,193.80 L485.50,185.00 L486.50,160.00 L487.40,138.00 L488.60,127.00 L490.00,117.10 L491.10,130.00 L492.30,152.00 L493.20,140.00 L494.30,88.60 L495.00,71.40 L495.70,73.60 L496.90,70.70 L497.90,69.30 L498.60,74.30 L499.30,88.60 L500.70,102.90 L501.40,120.00 L502.15,118.67 L502.90,121.40 L503.60,130.00 L504.80,151.80 L505.80,178.30 L506.60,169.29 L507.40,157.10 L508.50,154.40 L509.30,163.44 L510.10,169.00 L511.00,158.68 L511.90,151.80 L513.20,134.60 L514.60,154.40 L515.50,160.31 L516.40,162.40 L517.50,180.90 L518.00,199.50 L518.95,197.73 L519.90,196.80 L521.20,202.10 L522.50,220.70 L523.80,236.60 L524.70,233.76 L525.60,230.21 L526.50,226.00 L527.37,223.20 L528.23,222.03 L529.10,219.30 L529.83,223.73 L530.57,228.12 L531.30,231.30 L532.40,233.80 L533.60,236.30 L534.90,233.80 L535.70,234.47 L536.50,236.30 L537.30,233.80 L538.50,242.00 L539.50,246.90 L540.45,247.46 L541.40,246.90 L542.20,247.47 L543.00,246.00 L544.00,247.23 L545.00,247.70 L546.00,235.40 L547.10,224.00 L548.30,221.60 L549.20,225.70 L550.40,219.10 L551.50,227.30 L552.50,212.60 L553.60,205.30 L554.80,202.80 L556.10,198.80 L557.40,201.20 L558.20,204.57 L559.00,207.70 L560.20,209.30 L561.00,207.95 L561.80,209.00 L562.60,209.13 L563.40,209.30 L564.20,196.30 L565.50,196.30 L566.35,196.60 L567.20,197.90 L568.00,199.48 L568.80,199.60 L569.90,208.50 L570.75,211.10 L571.60,212.60 L572.70,213.40 L574.00,211.00 L574.85,210.80 L575.70,210.20 L576.50,207.15 L577.30,206.10 L578.10,193.00 L578.60,183.30 L579.90,171.30 L580.90,168.40 L581.80,158.40 L582.50,148.50 L583.80,147.10 L584.90,147.80 L586.00,147.10 L587.00,154.20 L587.80,162.70 L588.50,152.80 L589.50,148.50 L589.90,138.50 L590.50,109.70 L591.30,95.00 L592.10,78.90 L593.00,39.80 L593.80,46.30 L594.60,52.80 L595.70,54.40 L596.70,51.20 L597.80,67.50 L598.70,74.00 L600.00,83.70 L600.60,64.20 L601.60,54.40 L602.70,52.80 L603.50,54.40 L604.40,62.60 L605.20,75.60 L606.00,91.90 L606.80,100.50" fill="none" stroke="url(#halog)" stroke-width="5" stroke-linejoin="round"/>
<path d="M35.00,309.30 L35.71,309.25 L36.43,309.31 L37.14,309.27 L37.86,309.32 L38.57,309.33 L39.29,309.21 L40.00,309.20 L40.71,309.37 L41.43,309.25 L42.14,309.25 L42.86,309.40 L43.57,309.29 L44.29,309.37 L45.00,309.30 L45.71,309.33 L46.43,309.23 L47.14,309.33 L47.86,309.37 L48.57,309.30 L49.29,309.35 L50.00,309.33 L50.71,309.21 L51.43,309.35 L52.14,309.32 L52.86,309.26 L53.57,309.21 L54.29,309.37 L55.00,309.29 L55.71,309.34 L56.43,309.38 L57.14,309.34 L57.86,309.38 L58.57,309.28 L59.29,309.36 L60.00,309.30 L60.71,309.29 L61.42,309.38 L62.13,309.37 L62.84,309.21 L63.55,309.21 L64.26,309.23 L64.97,309.37 L65.68,309.27 L66.39,309.30 L67.11,309.23 L67.82,309.27 L68.53,309.25 L69.24,309.24 L69.95,309.28 L70.66,309.28 L71.37,309.34 L72.08,309.29 L72.79,309.34 L73.50,309.32 L74.21,309.35 L74.92,309.28 L75.63,309.17 L76.34,309.31 L77.05,309.33 L77.76,309.32 L78.47,309.25 L79.18,309.27 L79.89,309.17 L80.61,309.29 L81.32,309.24 L82.03,309.18 L82.74,309.13 L83.45,309.28 L84.16,309.31 L84.87,309.13 L85.58,309.27 L86.29,309.18 L87.00,309.20 L87.72,309.12 L88.44,309.14 L89.17,309.22 L89.89,309.23 L90.61,309.05 L91.33,309.16 L92.06,309.03 L92.78,309.15 L93.50,309.07 L94.22,309.17 L94.94,309.17 L95.67,309.07 L96.39,309.16 L97.11,309.01 L97.83,308.95 L98.56,309.04 L99.28,308.92 L100.00,309.00 L100.71,308.94 L101.43,308.97 L102.14,309.01 L102.86,308.92 L103.57,308.89 L104.29,309.05 L105.00,308.94 L105.71,309.06 L106.43,309.05 L107.14,308.94 L107.86,308.95 L108.57,308.96 L109.29,308.98 L110.00,308.97 L110.71,308.96 L111.43,308.97 L112.14,309.03 L112.86,308.94 L113.57,308.92 L114.29,308.97 L115.00,308.87 L115.71,308.88 L116.43,309.01 L117.14,308.92 L117.86,308.92 L118.57,308.81 L119.29,308.89 L120.00,308.90 L120.72,308.91 L121.44,308.79 L122.16,308.90 L122.88,308.90 L123.59,308.78 L124.31,308.89 L125.03,308.85 L125.75,308.89 L126.47,308.81 L127.19,308.88 L127.91,308.88 L128.62,308.73 L129.34,308.73 L130.06,308.85 L130.78,308.90 L131.50,308.75 L132.22,308.79 L132.94,308.81 L133.66,308.75 L134.38,308.75 L135.09,308.73 L135.81,308.74 L136.53,308.78 L137.25,308.71 L137.97,308.72 L138.69,308.79 L139.41,308.64 L140.12,308.74 L140.84,308.77 L141.56,308.67 L142.28,308.65 L143.00,308.70 L143.80,308.68 L144.60,308.49 L145.40,308.40 L146.20,308.37 L147.00,308.30 L147.75,308.41 L148.50,308.37 L149.25,308.49 L150.00,308.60 L150.71,308.55 L151.43,308.64 L152.14,308.54 L152.86,308.61 L153.57,308.46 L154.29,308.48 L155.00,308.53 L155.71,308.56 L156.43,308.46 L157.14,308.40 L157.86,308.37 L158.57,308.43 L159.29,308.35 L160.00,308.40 L160.75,308.57 L161.50,308.55 L162.25,308.02 L163.00,308.04 L163.75,308.38 L164.50,308.20 L165.25,308.28 L166.00,308.00 L166.80,307.73 L167.60,307.40 L168.40,307.36 L169.20,307.58 L170.00,307.20 L170.75,306.22 L171.50,305.60 L172.20,305.18 L172.90,305.00 L174.00,305.80 L175.00,306.00 L176.00,305.98 L177.00,306.10 L177.75,306.21 L178.50,306.38 L179.25,306.95 L180.00,306.80 L180.71,306.49 L181.43,306.33 L182.14,307.01 L182.86,306.92 L183.57,306.96 L184.29,306.49 L185.00,306.50 L185.71,306.92 L186.43,306.97 L187.14,306.50 L187.86,306.97 L188.57,307.11 L189.29,307.05 L190.00,307.00 L190.71,307.00 L191.43,306.81 L192.14,306.84 L192.86,306.74 L193.57,306.60 L194.29,306.98 L195.00,306.90 L195.71,306.80 L196.43,307.25 L197.14,306.73 L197.86,307.43 L198.57,307.33 L199.29,307.56 L200.00,307.30 L200.70,307.61 L201.40,307.62 L202.10,307.39 L202.80,306.97 L203.50,307.53 L204.20,307.11 L204.90,307.22 L205.60,307.50 L206.30,307.41 L207.00,307.40 L207.73,307.36 L208.45,307.78 L209.18,307.57 L209.91,307.39 L210.64,307.35 L211.36,307.83 L212.09,307.57 L212.82,307.83 L213.55,307.54 L214.27,307.45 L215.00,307.70 L215.70,307.72 L216.40,307.92 L217.10,307.43 L217.80,307.88 L218.50,307.96 L219.20,307.87 L219.90,307.87 L220.60,307.25 L221.30,307.71 L222.00,307.60 L222.73,307.91 L223.45,307.34 L224.18,307.54 L224.91,307.57 L225.64,307.80 L226.36,307.76 L227.09,307.83 L227.82,308.10 L228.55,307.56 L229.27,307.64 L230.00,308.00 L230.71,307.73 L231.43,307.72 L232.14,307.68 L232.86,308.35 L233.57,308.26 L234.29,307.70 L235.00,308.00 L235.71,307.86 L236.43,307.86 L237.14,307.89 L237.86,308.11 L238.57,308.06 L239.29,307.90 L240.00,308.00 L240.71,307.77 L241.43,307.86 L242.14,307.70 L242.86,308.01 L243.57,308.12 L244.29,307.87 L245.00,307.64 L245.71,307.71 L246.43,307.84 L247.14,308.01 L247.86,308.13 L248.57,307.83 L249.29,308.13 L250.00,307.90 L250.73,307.97 L251.45,307.81 L252.18,307.75 L252.91,307.82 L253.64,307.96 L254.36,307.73 L255.09,307.92 L255.82,307.73 L256.55,307.55 L257.27,307.74 L258.00,307.70 L258.70,307.83 L259.40,307.34 L260.10,307.58 L260.80,307.56 L261.50,307.88 L262.20,307.91 L262.90,307.47 L263.60,307.84 L264.30,307.74 L265.00,307.50 L265.70,307.30 L266.40,307.43 L267.10,307.16 L267.80,307.65 L268.50,307.52 L269.20,307.67 L269.90,307.58 L270.60,307.47 L271.30,307.50 L272.00,307.30 L272.73,307.32 L273.45,306.95 L274.18,307.28 L274.91,306.82 L275.64,306.89 L276.36,307.34 L277.09,306.76 L277.82,306.77 L278.55,306.75 L279.27,307.32 L280.00,307.00 L280.75,306.74 L281.50,306.61 L282.25,307.22 L283.00,306.66 L283.75,307.20 L284.50,307.06 L285.25,307.17 L286.00,306.90 L286.75,307.20 L287.50,306.86 L288.25,306.98 L289.00,306.34 L289.75,306.86 L290.50,306.61 L291.25,306.72 L292.00,306.50 L292.71,306.12 L293.42,306.54 L294.13,306.60 L294.84,305.85 L295.56,305.97 L296.27,306.08 L296.98,306.21 L297.69,305.67 L298.40,305.80 L299.12,305.45 L299.84,305.40 L300.56,305.59 L301.28,305.60 L302.00,305.30 L302.78,305.10 L303.57,304.96 L304.35,304.87 L305.13,304.71 L305.92,304.65 L306.70,304.60 L307.47,304.12 L308.23,304.33 L309.00,304.20 L309.90,304.36 L310.80,303.66 L311.70,303.50 L312.47,303.05 L313.23,301.87 L314.00,301.50 L314.90,300.67 L315.80,299.74 L316.70,298.50 L317.60,299.41 L318.50,300.00 L319.30,300.08 L320.10,300.12 L320.90,300.20 L321.70,298.74 L322.50,297.00 L323.40,295.27 L324.30,292.70 L325.13,292.58 L325.97,292.79 L326.80,293.50 L327.60,295.46 L328.40,296.90 L329.27,295.11 L330.13,292.45 L331.00,290.20 L331.80,288.43 L332.60,286.80 L333.45,286.28 L334.30,285.20 L335.15,279.71 L336.00,275.10 L337.30,255.00 L338.30,238.40 L339.50,246.70 L340.10,256.70 L341.50,255.00 L342.60,265.10 L343.90,280.20 L345.00,274.60 L345.75,271.18 L346.50,268.50 L347.80,275.70 L349.00,276.90 L350.40,284.10 L351.10,280.63 L351.80,278.00 L352.60,275.63 L353.40,273.00 L354.17,274.38 L354.93,275.93 L355.70,278.00 L356.55,280.52 L357.40,282.50 L358.13,284.27 L358.87,284.57 L359.60,286.00 L360.45,285.31 L361.30,284.10 L362.10,281.38 L362.90,278.90 L364.10,282.50 L365.20,285.30 L366.05,284.91 L366.90,283.60 L367.63,283.88 L368.37,283.63 L369.10,284.10 L369.95,283.88 L370.80,283.78 L371.65,284.52 L372.50,284.70 L373.20,284.77 L373.90,284.73 L374.60,285.20 L375.30,285.60 L376.40,292.50 L377.25,293.91 L378.10,295.70 L378.90,295.54 L379.70,294.80 L380.55,294.12 L381.40,294.20 L382.25,295.56 L383.10,295.90 L383.95,295.98 L384.80,296.10 L385.65,295.45 L386.50,294.60 L387.20,294.47 L387.90,294.76 L388.60,294.64 L389.30,294.20 L390.10,293.16 L390.90,292.00 L391.75,290.83 L392.60,289.70 L393.37,289.43 L394.13,289.06 L394.90,288.10 L396.20,279.10 L396.95,277.75 L397.70,276.70 L398.90,279.10 L399.70,270.34 L400.50,260.80 L401.70,263.20 L402.65,268.29 L403.60,271.80 L404.50,268.40 L405.40,265.10 L406.30,268.30 L407.20,272.40 L408.15,271.07 L409.10,270.60 L410.30,273.00 L411.50,278.50 L412.40,277.27 L413.30,275.40 L414.25,275.07 L415.20,274.20 L416.00,277.32 L416.80,279.57 L417.60,281.50 L418.50,281.50 L419.40,282.20 L420.23,281.78 L421.07,281.87 L421.90,282.20 L422.70,279.93 L423.50,278.83 L424.30,276.70 L425.20,275.42 L426.10,273.66 L427.00,271.20 L427.80,272.92 L428.60,275.40 L429.80,288.90 L430.75,288.10 L431.70,286.40 L432.50,284.12 L433.30,282.23 L434.10,280.30 L434.90,278.60 L435.70,275.61 L436.50,274.20 L437.45,272.96 L438.40,273.00 L439.20,273.92 L440.00,273.48 L440.80,274.20 L441.63,274.18 L442.47,274.72 L443.30,274.80 L444.20,271.73 L445.10,268.10 L446.00,265.75 L446.90,265.10 L447.85,265.71 L448.80,266.90 L450.00,269.60 L450.90,269.04 L451.80,268.70 L452.75,267.48 L453.70,266.30 L454.90,258.30 L455.63,254.72 L456.37,252.48 L457.10,249.30 L457.95,245.18 L458.80,239.00 L459.70,232.77 L460.60,227.10 L461.50,219.70 L462.40,201.40 L463.00,177.50 L463.30,163.80 L463.90,170.20 L464.80,186.70 L465.60,172.00 L466.10,157.30 L466.70,140.50 L467.40,115.00 L467.80,101.70 L468.40,102.70 L469.10,108.80 L469.85,99.11 L470.60,88.90 L472.00,95.60 L472.95,89.54 L473.90,88.00 L475.10,100.50 L476.50,118.50 L477.40,138.00 L478.00,168.30 L478.90,172.00 L479.90,164.70 L480.80,170.19 L481.70,177.50 L482.50,182.12 L483.30,185.50 L484.60,193.80 L485.50,185.00 L486.50,160.00 L487.40,138.00 L488.60,127.00 L490.00,117.10 L491.10,130.00 L492.30,152.00 L493.20,140.00 L494.30,88.60 L495.00,71.40 L495.70,73.60 L496.90,70.70 L497.90,69.30 L498.60,74.30 L499.30,88.60 L500.70,102.90 L501.40,120.00 L502.15,118.67 L502.90,121.40 L503.60,130.00 L504.80,151.80 L505.80,178.30 L506.60,169.29 L507.40,157.10 L508.50,154.40 L509.30,163.44 L510.10,169.00 L511.00,158.68 L511.90,151.80 L513.20,134.60 L514.60,154.40 L515.50,160.31 L516.40,162.40 L517.50,180.90 L518.00,199.50 L518.95,197.73 L519.90,196.80 L521.20,202.10 L522.50,220.70 L523.80,236.60 L524.70,233.76 L525.60,230.21 L526.50,226.00 L527.37,223.20 L528.23,222.03 L529.10,219.30 L529.83,223.73 L530.57,228.12 L531.30,231.30 L532.40,233.80 L533.60,236.30 L534.90,233.80 L535.70,234.47 L536.50,236.30 L537.30,233.80 L538.50,242.00 L539.50,246.90 L540.45,247.46 L541.40,246.90 L542.20,247.47 L543.00,246.00 L544.00,247.23 L545.00,247.70 L546.00,235.40 L547.10,224.00 L548.30,221.60 L549.20,225.70 L550.40,219.10 L551.50,227.30 L552.50,212.60 L553.60,205.30 L554.80,202.80 L556.10,198.80 L557.40,201.20 L558.20,204.57 L559.00,207.70 L560.20,209.30 L561.00,207.95 L561.80,209.00 L562.60,209.13 L563.40,209.30 L564.20,196.30 L565.50,196.30 L566.35,196.60 L567.20,197.90 L568.00,199.48 L568.80,199.60 L569.90,208.50 L570.75,211.10 L571.60,212.60 L572.70,213.40 L574.00,211.00 L574.85,210.80 L575.70,210.20 L576.50,207.15 L577.30,206.10 L578.10,193.00 L578.60,183.30 L579.90,171.30 L580.90,168.40 L581.80,158.40 L582.50,148.50 L583.80,147.10 L584.90,147.80 L586.00,147.10 L587.00,154.20 L587.80,162.70 L588.50,152.80 L589.50,148.50 L589.90,138.50 L590.50,109.70 L591.30,95.00 L592.10,78.90 L593.00,39.80 L593.80,46.30 L594.60,52.80 L595.70,54.40 L596.70,51.20 L597.80,67.50 L598.70,74.00 L600.00,83.70 L600.60,64.20 L601.60,54.40 L602.70,52.80 L603.50,54.40 L604.40,62.60 L605.20,75.60 L606.00,91.90 L606.80,100.50" fill="none" stroke="url(#lineg)" stroke-width="2.2" stroke-linejoin="round"/>
<!-- left label -->
<rect x="36.2" y="302" width="50" height="15" fill="#fff"/>
<circle cx="35" cy="309.3" r="0.9" fill="#6a6f78"/>
<text x="40.6" y="313.9" font-size="11.5" fill="#5c6169" stroke="#5c6169" stroke-width="0.45">0.05816</text>
<!-- right axis -->
<g font-size="11" fill="#7f848d" font-weight="bold" letter-spacing="0.25">
<text x="614" y="92.2">60.0K</text>
<text x="614" y="166">40.0K</text>
<text x="614" y="239.3">20.0K</text>
</g>
<rect x="607" y="88.3" width="44" height="25" rx="3" fill="#16c784"/>
<text x="629.2" y="104.9" font-size="11.6" font-weight="bold" fill="#fff" stroke="#fff" stroke-width="0.35" text-anchor="middle" letter-spacing="0.4">56.4K</text>
<text x="619.7" y="355.8" font-size="12" font-weight="bold" fill="#676b73">USD</text>
<!-- x labels -->
<g font-size="11" fill="#7b7e85" stroke="#7b7e85" stroke-width="0.3" letter-spacing="0.6">
<text x="94.7" y="387" text-anchor="middle">2012</text>
<text x="176.5" y="387" text-anchor="middle">2014</text>
<text x="258.4" y="387" text-anchor="middle">2016</text>
<text x="340.3" y="387" text-anchor="middle">2018</text>
<text x="422.3" y="387" text-anchor="middle">2020</text>
<text x="504.2" y="387" text-anchor="middle">2022</text>
<text x="586.1" y="387" text-anchor="middle">2024</text>
</g>
<!-- navigator -->
<rect x="33" y="410" width="574" height="40" fill="#eff2fe"/>
<g stroke="#e6e9f4" stroke-width="1">
<line x1="93.5" y1="410" x2="93.5" y2="450"/>
<line x1="175.5" y1="410" x2="175.5" y2="450"/>
<line x1="257.5" y1="410" x2="257.5" y2="450"/>
<line x1="339.5" y1="410" x2="339.5" y2="450"/>
<line x1="421.5" y1="410" x2="421.5" y2="450"/>
<line x1="503.5" y1="410" x2="503.5" y2="450"/>
<line x1="585.5" y1="410" x2="585.5" y2="450"/>
</g>
<path d="M33,450 L35,450 L60,450 L87,450 L100,449.9 L120,449.9 L143,449.9 L147,449.8 L150,449.9 L160,449.9 L166,449.8 L170,449.7 L171.5,449.5 L172.9,449.4 L174,449.5 L175,449.5 L177,449.6 L180,449.6 L185,449.6 L190,449.7 L195,449.7 L200,449.7 L207,449.7 L215,449.8 L222,449.8 L230,449.8 L240,449.8 L250,449.8 L258,449.8 L265,449.7 L272,449.7 L280,449.7 L286,449.7 L292,449.6 L298.4,449.5 L302,449.5 L306.7,449.4 L309,449.3 L311.7,449.2 L314,449 L316.7,448.6 L318.5,448.8 L320.9,448.8 L322.5,448.4 L324.3,447.8 L326.8,447.9 L328.4,448.4 L331,447.5 L332.6,447.1 L334.3,446.8 L336,445.5 L337.3,442.9 L338.3,440.8 L339.5,441.9 L340.1,443.2 L341.5,442.9 L342.6,444.2 L343.9,446.2 L345,445.5 L346.5,444.7 L347.8,445.6 L349,445.8 L350.4,446.7 L351.8,445.9 L353.4,445.3 L355.7,445.9 L357.4,446.5 L359.6,447 L361.3,446.7 L362.9,446 L364.1,446.5 L365.2,446.9 L366.9,446.6 L369.1,446.7 L372.5,446.8 L375.3,446.9 L376.4,447.8 L378.1,448.2 L379.7,448.1 L381.4,448 L383.1,448.2 L384.8,448.3 L386.5,448.1 L389.3,448 L390.9,447.7 L392.6,447.4 L394.9,447.2 L396.2,446.1 L397.7,445.7 L398.9,446.1 L400.5,443.7 L401.7,444 L403.6,445.1 L405.4,444.2 L407.2,445.2 L409.1,445 L410.3,445.3 L411.5,446 L413.3,445.6 L415.2,445.4 L417.6,446.4 L419.4,446.5 L421.9,446.5 L424.3,445.7 L427,445 L428.6,445.6 L429.8,447.3 L431.7,447 L434.1,446.2 L436.5,445.4 L438.4,445.3 L440.8,445.4 L443.3,445.5 L445.1,444.6 L446.9,444.2 L448.8,444.5 L450,444.8 L451.8,444.7 L453.7,444.4 L454.9,443.4 L457.1,442.2 L458.8,440.9 L460.6,439.3 L461.5,438.4 L462.4,436 L463,432.9 L463.3,431.1 L463.9,431.9 L464.8,434.1 L465.6,432.2 L466.1,430.3 L466.7,428.1 L467.4,424.8 L467.8,423 L468.4,423.2 L469.1,424 L470.6,421.4 L472,422.3 L473.9,421.3 L475.1,422.9 L476.5,425.2 L477.4,427.8 L478,431.7 L478.9,432.2 L479.9,431.2 L481.7,432.9 L483.3,433.9 L484.6,435 L485.5,433.8 L486.5,430.6 L487.4,427.8 L488.6,426.3 L490,425 L491.1,426.7 L492.3,429.6 L493.2,428 L494.3,421.3 L495,419.1 L495.7,419.4 L496.9,419 L497.9,418.8 L498.6,419.5 L499.3,421.3 L500.7,423.2 L501.4,425.4 L502.9,425.6 L503.6,426.7 L504.8,429.5 L505.8,433 L507.4,430.2 L508.5,429.9 L510.1,431.8 L511.9,429.5 L513.2,427.3 L514.6,429.9 L516.4,430.9 L517.5,433.3 L518,435.7 L519.9,435.4 L521.2,436.1 L522.5,438.5 L523.8,440.5 L526.5,439.2 L529.1,438.3 L531.3,439.9 L532.4,440.2 L533.6,440.5 L534.9,440.2 L536.5,440.5 L537.3,440.2 L538.5,441.2 L539.5,441.9 L541.4,441.9 L543,441.8 L545,442 L546,440.4 L547.1,438.9 L548.3,438.6 L549.2,439.1 L550.4,438.3 L551.5,439.3 L552.5,437.4 L553.6,436.5 L554.8,436.2 L556.1,435.6 L557.4,436 L559,436.8 L560.2,437 L561.8,437 L563.4,437 L564.2,435.3 L565.5,435.3 L567.2,435.5 L568.8,435.7 L569.9,436.9 L571.6,437.4 L572.7,437.5 L574,437.2 L575.7,437.1 L577.3,436.6 L578.1,434.9 L578.6,433.6 L579.9,432.1 L580.9,431.7 L581.8,430.4 L582.5,429.1 L583.8,428.9 L584.9,429 L586,428.9 L587,429.9 L587.8,431 L588.5,429.7 L589.5,429.1 L589.9,427.8 L590.5,424.1 L591.3,422.2 L592.1,420.1 L593,415 L593.8,415.9 L594.6,416.7 L595.7,416.9 L596.7,416.5 L597.8,418.6 L598.7,419.4 L600,420.7 L600.6,418.2 L601.6,416.9 L602.7,416.7 L603.5,416.9 L604.4,418 L605.2,419.7 L606,421.8 L606.8,422.9 L607,422.9 L607,450 Z" fill="#e2e6f0"/>
<g filter="url(#sh)">
<rect x="26" y="419.5" width="14" height="20.5" rx="7" fill="#fff"/>
<rect x="598.5" y="420" width="14" height="20.5" rx="7" fill="#fff"/>
</g>
<g fill="#a9aeb8">
<rect x="31.2" y="426" width="0.9" height="8"/><rect x="34" y="426" width="0.9" height="8"/>
<rect x="604" y="426.5" width="0.9" height="8"/><rect x="606.8" y="426.5" width="0.9" height="8"/>
</g>
<g font-size="11" fill="#7b7e85" stroke="#7b7e85" stroke-width="0.3" letter-spacing="0.6">
<text x="94.7" y="467" text-anchor="middle">2012</text>
<text x="176.5" y="467" text-anchor="middle">2014</text>
<text x="258.4" y="467" text-anchor="middle">2016</text>
<text x="340.3" y="467" text-anchor="middle">2018</text>
<text x="422.3" y="467" text-anchor="middle">2020</text>
<text x="504.2" y="467" text-anchor="middle">2022</text>
<text x="586.1" y="467" text-anchor="middle">2024</text>
</g>
<!-- watermark -->
<text x="450" y="476.3" font-size="24.1" fill="#d0383c">cryptonisation.com</text>
</svg>
</body></html>
